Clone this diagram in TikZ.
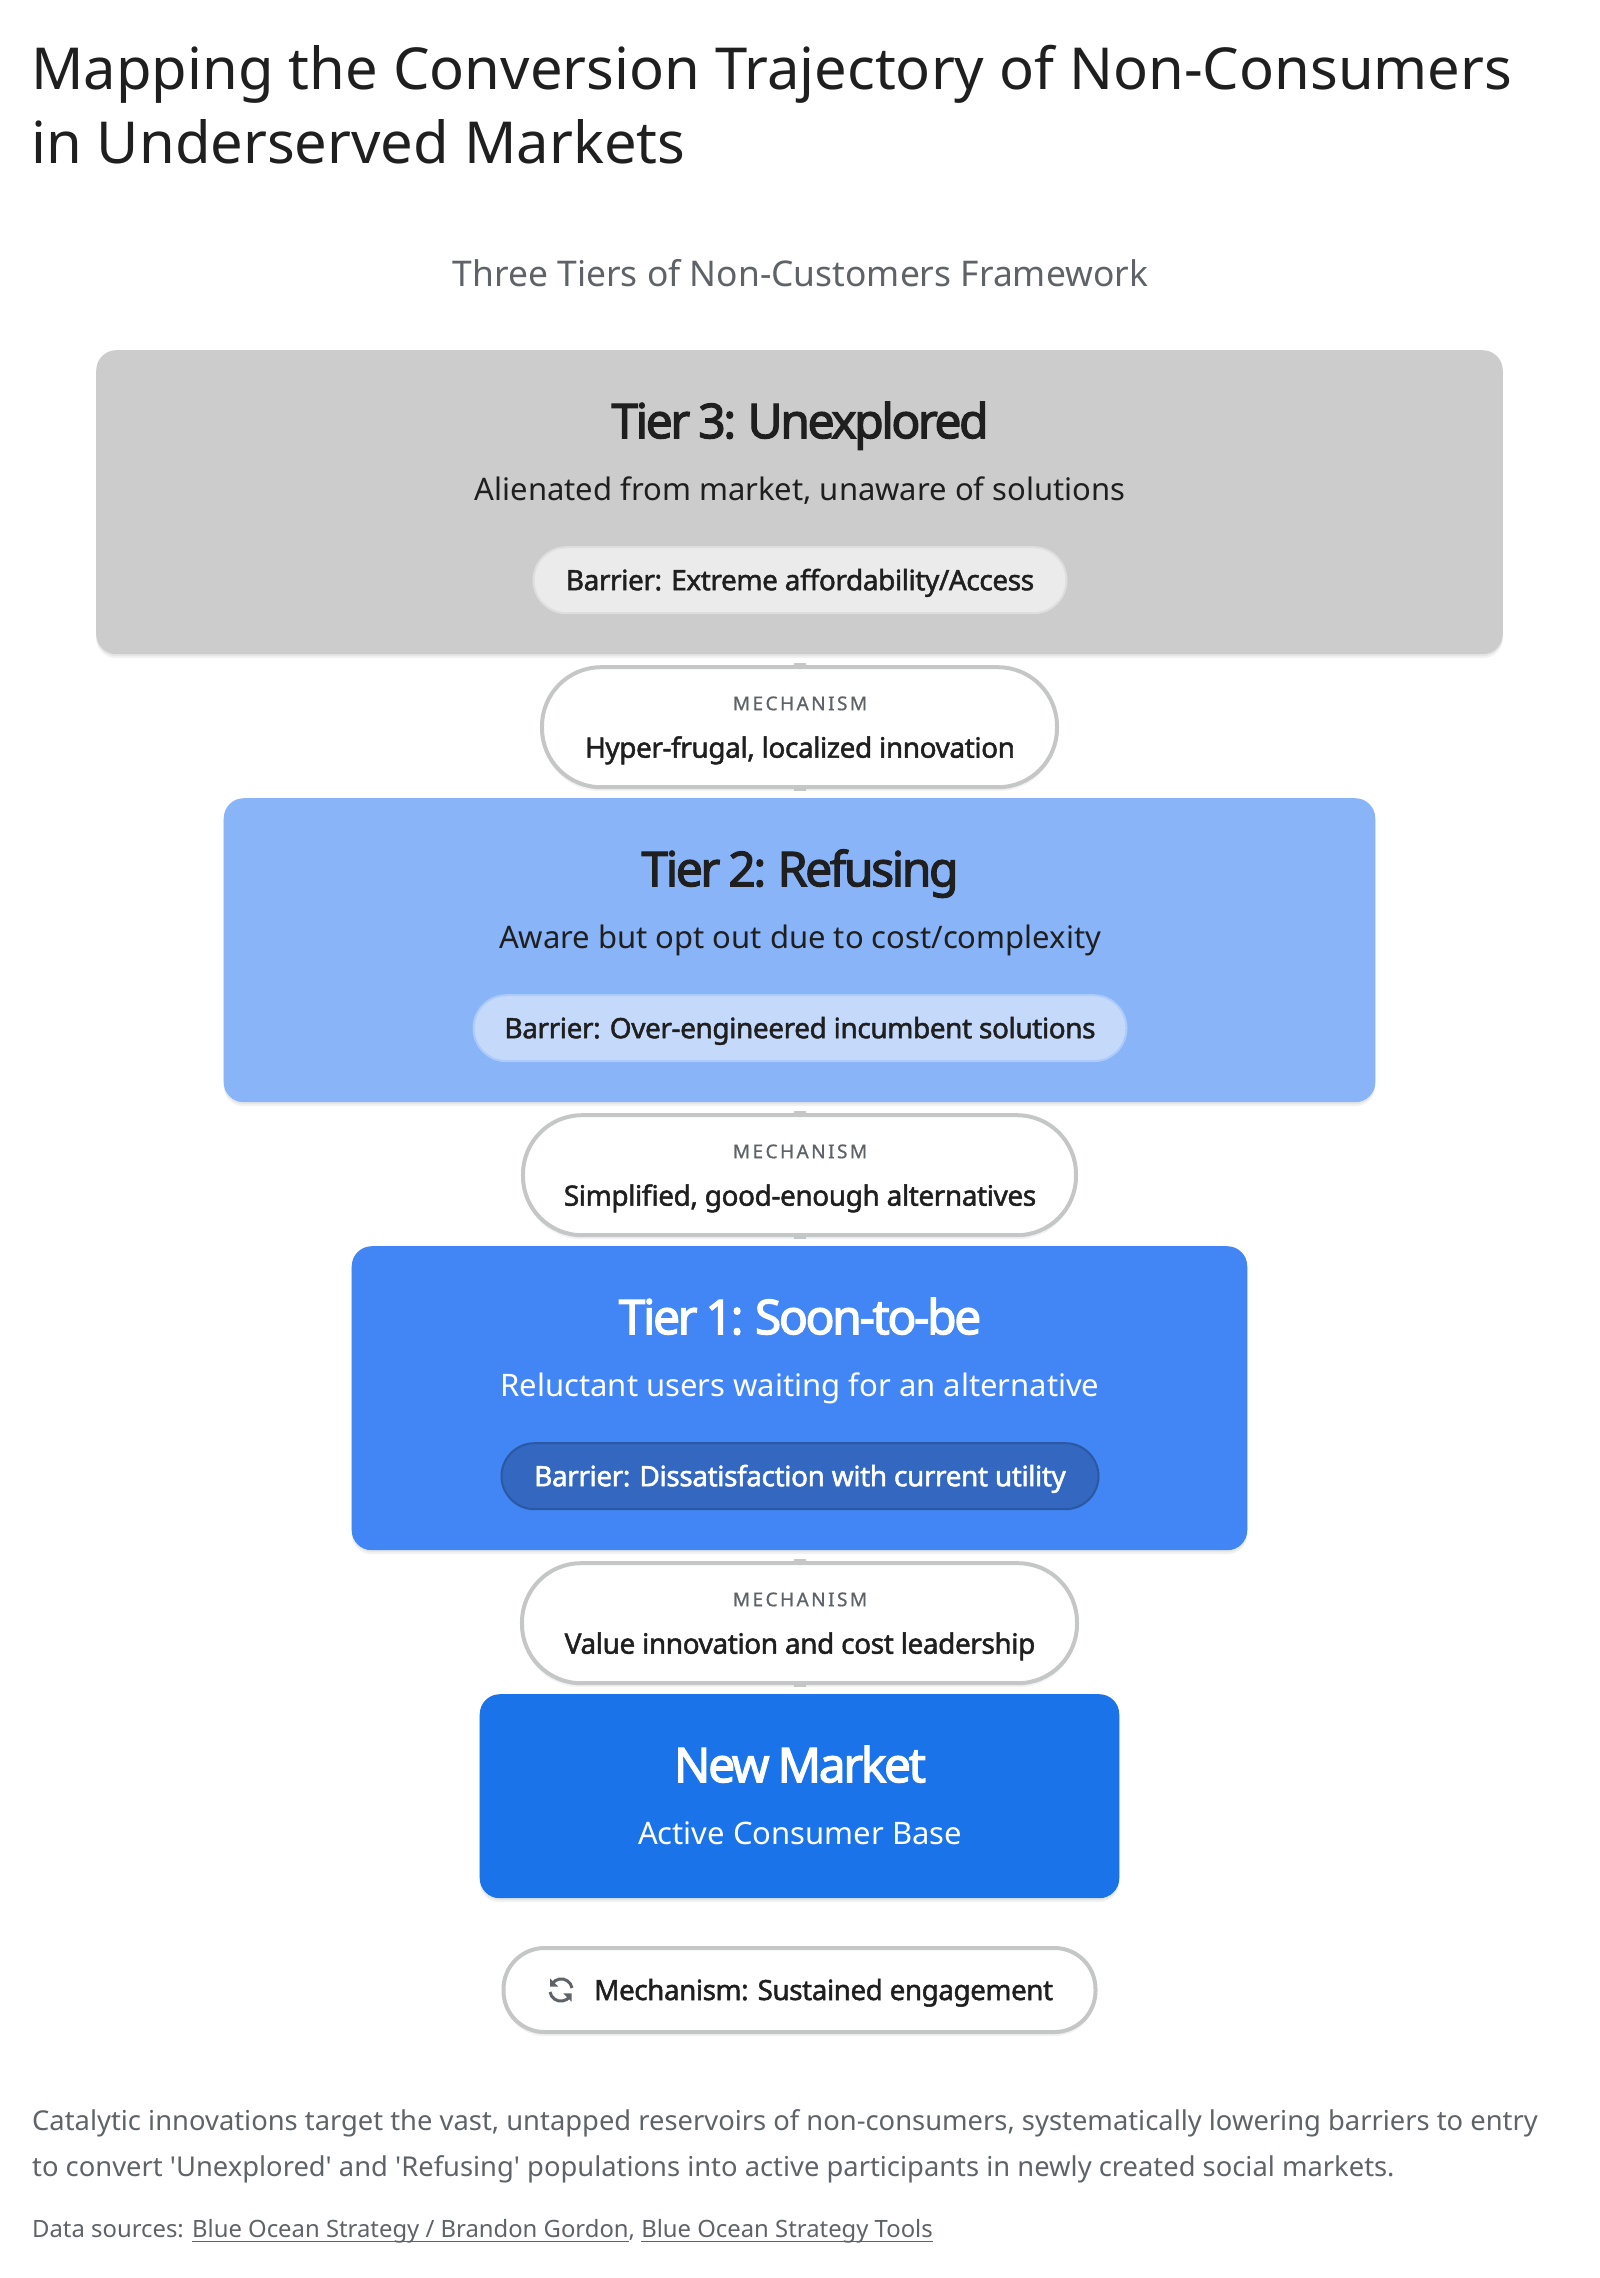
\documentclass[tikz,border=0pt]{standalone}
\usepackage{fontspec}
\usetikzlibrary{positioning,matrix,calc,shadows,arrows.meta}
\setmainfont{Noto Sans}
\newfontfamily\plainfont{Noto Sans}
\newfontfamily\medfont[FakeBold=1.7,LetterSpace=-1.5]{Noto Sans}
\newfontfamily\headfont[FakeBold=2.5,LetterSpace=-5,WordSpace=0.8]{Noto Sans}
\newfontfamily\capsfont[FakeBold=0.8,LetterSpace=13]{Noto Sans}
\newcommand{\linktext}[1]{\setbox0=\hbox{#1}\rlap{\rule[-5pt]{\wd0}{1.5pt}}\box0}
\definecolor{inkdark}{HTML}{1F1F1F}
\definecolor{inkgray}{HTML}{5F6368}
\definecolor{linegray}{HTML}{C4C7C5}
\definecolor{tierthree}{HTML}{CCCCCC}
\definecolor{tiertwo}{HTML}{8AB4F8}
\definecolor{tierone}{HTML}{4285F4}
\definecolor{tiernew}{HTML}{1A73E8}
\definecolor{barrierone}{HTML}{3367C0}
\tikzset{
	x=1pt, y=1pt,
	softshadow/.style={drop shadow={shadow xshift=0pt,shadow yshift=-2pt,opacity=.05,fill=black},drop shadow={shadow xshift=0pt,shadow yshift=-4pt,opacity=.05,fill=black}},
	tierbox/.style={rectangle,rounded corners=20pt,inner sep=0pt,outer sep=0pt,minimum height=304pt,softshadow},
	mechpill/.style={rectangle,rounded corners=59pt,draw=linegray,line width=4pt,fill=white,inner sep=0pt,outer sep=0pt,minimum height=120pt,softshadow},
	barrierpill/.style={rectangle,rounded corners=33pt,line width=2pt,inner sep=0pt,outer sep=0pt,minimum height=66pt},
	stub/.style={draw=linegray,line width=12pt},
	tiertitle/.style={anchor=base,inner sep=0pt,font=\headfont\fontsize{48}{48}\selectfont},
	tiersub/.style={anchor=base,inner sep=0pt,font=\fontsize{31}{31}\selectfont},
	barriertext/.style={anchor=base,inner sep=0pt,font=\medfont\fontsize{28}{28}\selectfont},
	mechhead/.style={anchor=base,inner sep=0pt,text=inkgray,font=\capsfont\fontsize{19}{19}\selectfont},
	mechtext/.style={anchor=base,inner sep=0pt,text=inkdark,font=\medfont\fontsize{28}{28}\selectfont},
	bodytext/.style={anchor=base west,inner sep=0pt,text=inkgray,font=\plainfont\fontsize{27.35}{27.4}\selectfont},
}
\begin{document}
\begin{tikzpicture}
\useasboundingbox (0,0) rectangle (1600,-2278);
\node [anchor=base west,inner sep=0pt,text=inkdark,font=\fontsize{57.9}{58}\selectfont] (title1) at (31,-89) {Mapping the Conversion Trajectory of Non-Consumers};
\node [anchor=base west,inner sep=0pt,text=inkdark,font=\fontsize{57.9}{58}\selectfont] (title2) at (31,-163) {in Underserved Markets};
\node [anchor=base,inner sep=0pt,text=inkgray,font=\fontsize{35.4}{36}\selectfont] (subtitle) at (800.5,-286) {Three Tiers of Non-Customers Framework};
\matrix (stack) [anchor=north,inner sep=0pt,row sep=0pt] at (799.5,-350) {
	\node [tierbox,fill=tierthree,minimum width=1406.5pt] (t3) {}; \\[11pt]
	\node [mechpill,minimum width=515pt] (m3) {}; \\[9pt]
	\node [tierbox,fill=tiertwo,minimum width=1151.5pt] (t2) {}; \\[11pt]
	\node [mechpill,minimum width=553pt] (m2) {}; \\[9pt]
	\node [tierbox,fill=tierone,minimum width=895.5pt] (t1) {}; \\[11pt]
	\node [mechpill,minimum width=555pt] (m1) {}; \\[9pt]
	\node [tierbox,fill=tiernew,minimum width=639.5pt,minimum height=204pt] (tn) {}; \\
};
\node [tiertitle,text=inkdark] (t3title) at ($(t3.north)+(0.5,-88)$) {Tier 3: Unexplored};
\node [tiersub,text=inkdark] (t3sub) at ($(t3.north)+(0.5,-150)$) {Alienated from market, unaware of solutions};
\node [barrierpill,fill=black!8,draw=black!13,minimum width=533pt] (b3) at ($(t3.north)+(0.5,-230)$) {};
\node [barriertext,text=inkdark] (b3text) at ($(t3.north)+(0.5,-240)$) {Barrier: Extreme affordability/Access};
\node [tiertitle,text=inkdark] (t2title) at ($(t2.north)+(0.5,-88)$) {Tier 2: Refusing};
\node [tiersub,text=inkdark] (t2sub) at ($(t2.north)+(0.5,-150)$) {Aware but opt out due to cost/complexity};
\node [barrierpill,fill=tiertwo!50!white,draw=tiertwo!70!white,minimum width=653pt] (b2) at ($(t2.north)+(0.5,-230)$) {};
\node [barriertext,text=inkdark] (b2text) at ($(t2.north)+(0.5,-240)$) {Barrier: Over-engineered incumbent solutions};
\node [tiertitle,text=white] (t1title) at ($(t1.north)+(0.5,-88)$) {Tier 1: Soon-to-be};
\node [tiersub,text=white] (t1sub) at ($(t1.north)+(0.5,-150)$) {Reluctant users waiting for an alternative};
\node [barrierpill,fill=barrierone,draw=barrierone!85!black,minimum width=597pt] (b1) at ($(t1.north)+(0.5,-230)$) {};
\node [barriertext,text=white] (b1text) at ($(t1.north)+(0.5,-240)$) {Barrier: Dissatisfaction with current utility};
\node [tiertitle,text=white] (tntitle) at ($(tn.north)+(0.5,-88)$) {New Market};
\node [tiersub,text=white] (tnsub) at ($(tn.north)+(0.5,-150)$) {Active Consumer Base};
\node [mechhead] (m3head) at ($(m3.north)+(0.5,-43)$) {MECHANISM};
\node [mechtext] (m3text) at ($(m3.north)+(0.5,-90.5)$) {Hyper-frugal, localized innovation};
\node [mechhead] (m2head) at ($(m2.north)+(0.5,-43)$) {MECHANISM};
\node [mechtext] (m2text) at ($(m2.north)+(0.5,-90.5)$) {Simplified, good-enough alternatives};
\node [mechhead] (m1head) at ($(m1.north)+(0.5,-43)$) {MECHANISM};
\node [mechtext] (m1text) at ($(m1.north)+(0.5,-90.5)$) {Value innovation and cost leadership};
\coordinate (s3a) at ($(m3.north)+(0,4)$);
\coordinate (s3b) at ($(m3.south)+(0,-4)$);
\coordinate (s2a) at ($(m2.north)+(0,4)$);
\coordinate (s2b) at ($(m2.south)+(0,-4)$);
\coordinate (s1a) at ($(m1.north)+(0,4)$);
\coordinate (s1b) at ($(m1.south)+(0,-4)$);
\draw [stub] (m3.north) -- (s3a);
\draw [stub] (m3.south) -- (s3b);
\draw [stub] (m2.north) -- (s2a);
\draw [stub] (m2.south) -- (s2b);
\draw [stub] (m1.north) -- (s1a);
\draw [stub] (m1.south) -- (s1b);
\node [mechpill,rounded corners=41pt,minimum width=592pt,minimum height=84pt] (loop) at (799.5,-1990) {};
\node [anchor=base west,inner sep=0pt,text=inkdark,font=\medfont\fontsize{27.8}{28}\selectfont] (looptext) at (594,-2000) {Mechanism: Sustained engagement};
% sync icon
\draw [inkgray,line width=3pt] (572,-1988) arc (10:145:11);
\draw [inkgray,line width=3pt] (550,-1992) arc (190:325:11);
\fill [inkgray] (550,-1978.3) -- (550,-1986.7) -- (558.3,-1986.7) -- cycle;
\fill [inkgray] (571.7,-2001.7) -- (571.7,-1993.3) -- (563.3,-1993.3) -- cycle;
\node [bodytext] (body1) at (32,-2130) {Catalytic innovations target the vast, untapped reservoirs of non-consumers, systematically lowering barriers to entry};
\node [bodytext] (body2) at (32,-2176) {to convert 'Unexplored' and 'Refusing' populations into active participants in newly created social markets.};
\node [bodytext,font=\plainfont\fontsize{23.85}{24}\selectfont] (sources) at (32,-2237) {Data sources: \linktext{Blue Ocean Strategy / Brandon Gordon}, \linktext{Blue Ocean Strategy Tools}};
\end{tikzpicture}
\end{document}
